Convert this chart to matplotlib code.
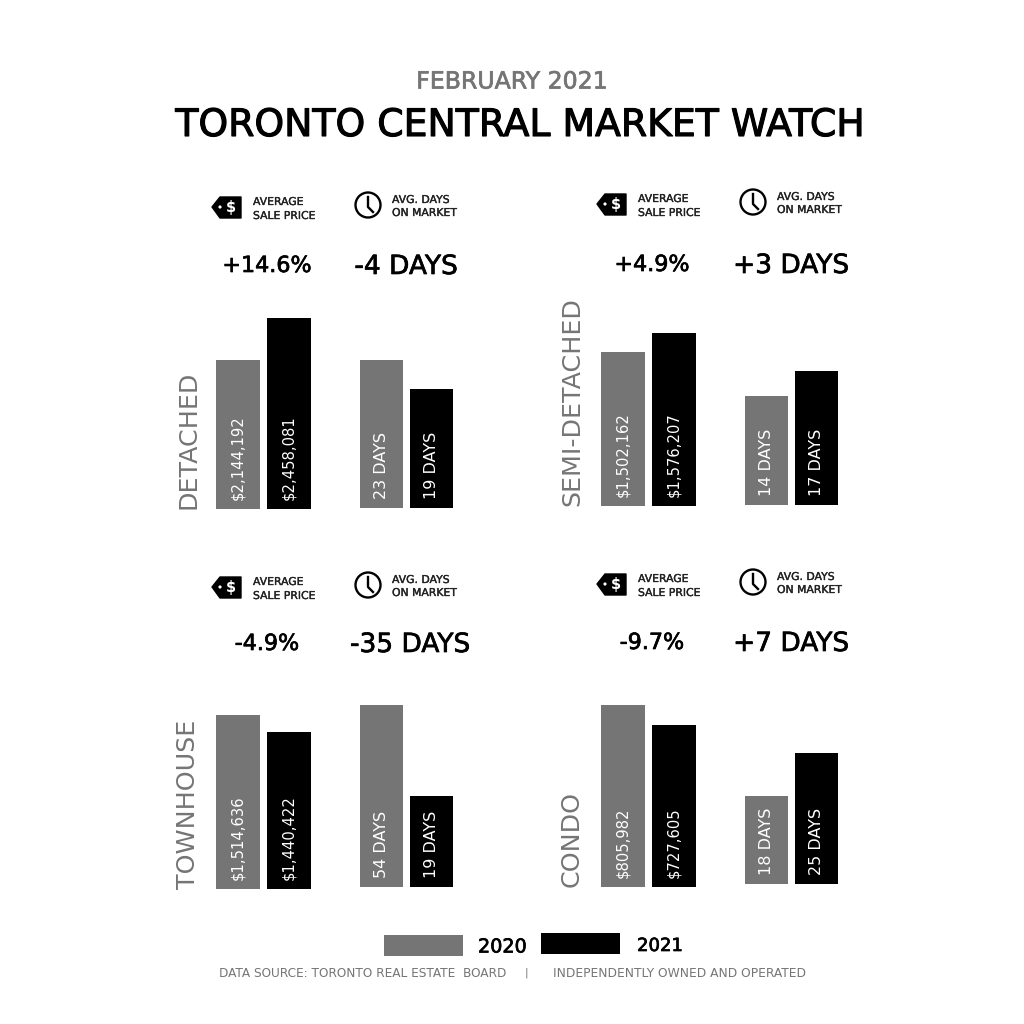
import matplotlib
matplotlib.use('Agg')
import matplotlib.pyplot as plt
import matplotlib.patheffects as pe
from matplotlib.patches import Circle, Polygon, Rectangle

plt.rcParams['font.family'] = ['DejaVu Sans']

GRAY = '#757575'
categories = ['DETACHED', 'SEMI-DETACHED', 'TOWNHOUSE', 'CONDO']
price_2020 = [2144192, 1502162, 1514636, 805982]
price_2021 = [2458081, 1576207, 1440422, 727605]
days_2020 = [23, 14, 54, 18]
days_2021 = [19, 17, 19, 25]
price_change = ['+14.6%', '+4.9%', '-4.9%', '-9.7%']
days_change = ['-4 DAYS', '+3 DAYS', '-35 DAYS', '+7 DAYS']

# y axis of each chart starts above/below zero, floors
price_floor = [1031000, 902000, 755000, 92700]
days_floor = [2.6, 0.92, -16, 3.7]

# pixel layout, one entry per panel
px = [0, 385, 0, 385]
price_base = [509, 506, 889, 887]
days_base = [508, 505, 887, 884]
price_top = [318, 333, 715, 705]
days_top = [360, 371, 705, 753]
icon_y = [207, 204, 587, 584]
change_y = [264, 263, 642, 641]
days_change_x = [406, 791, 410, 791]

fig = plt.figure(figsize=(10.24, 10.24), dpi=100)
bg = fig.add_axes([0, 0, 1, 1])
bg.set_xlim(0, 1024)
bg.set_ylim(1024, 0)
bg.axis('off')


def heavy(t, color='black', w=0.5):
    # DejaVu has no semibold, thicken the regular weight a little
    t.set_path_effects([pe.withStroke(linewidth=w, foreground=color)])
    return t


def bars(left, right, base, top, v1, v2, floor, labels, size):
    ax = fig.add_axes([left/1024, 1-base/1024, (right-left)/1024, (base-top)/1024])
    ax.bar([0, 1], [v1-floor, v2-floor], bottom=floor, width=0.86, color=[GRAY, 'black'])
    ax.set_xlim(-0.43, 1.43)
    ax.set_ylim(floor, max(v1, v2))
    ax.axis('off')
    for i, lab in enumerate(labels):
        ax.annotate(lab, (i, floor), xytext=(0, 6.5), textcoords='offset points',
                    rotation=90, ha='center', va='bottom', color='white',
                    fontsize=size, clip_on=False)


def tag_icon(cx, cy):
    bg.add_patch(Polygon([(cx-16, cy), (cx-8, cy-10), (cx+13, cy-10), (cx+13, cy+11),
                          (cx-8, cy+11)], closed=True, fc='black', ec='black', lw=1, joinstyle='round'))
    bg.add_patch(Circle((cx-8, cy), 1.6, fc='white', ec='none'))
    bg.text(cx+3, cy+0.5, '$', color='white', fontsize=10.5, fontweight='bold', ha='center', va='center')


def clock_icon(cx, cy):
    bg.add_patch(Circle((cx, cy), 12.5, fc='none', ec='black', lw=1.7))
    bg.plot([cx, cx, cx+5], [cy-8, cy+2, cy+7], color='black', lw=1.7)


for k in range(4):
    dx = px[k]
    y = icon_y[k]
    bars(216+dx, 311+dx, price_base[k], price_top[k], price_2020[k], price_2021[k], price_floor[k],
         [f'${price_2020[k]:,}', f'${price_2021[k]:,}'], 10.6)
    bars(360+dx, 453+dx, days_base[k], days_top[k], days_2020[k], days_2021[k], days_floor[k],
         [f'{days_2020[k]} DAYS', f'{days_2021[k]} DAYS'], 11.5)

    tag_icon(228+dx, y)
    clock_icon(368+dx, y-2)
    for txt, tx, ty in [('AVERAGE', 253, y-6), ('SALE PRICE', 253, y+8),
                        ('AVG. DAYS', 392, y-8), ('ON MARKET', 392, y+5)]:
        heavy(bg.text(tx+dx, ty, txt, fontsize=7.8, color='#222222', ha='left', va='center_baseline'), '#222222', 0.25)

    heavy(bg.text(267+dx, change_y[k], price_change[k], fontsize=16, ha='center', va='center_baseline'))
    heavy(bg.text(days_change_x[k], change_y[k], days_change[k], fontsize=19, ha='center', va='center_baseline'))
    bg.text(188+dx-(1 if dx else 0), price_base[k], categories[k], rotation=90, fontsize=18.3,
            color=GRAY, ha='center', va='bottom')

heavy(bg.text(512, 79, 'FEBRUARY 2021', fontsize=17, color=GRAY, ha='center', va='center_baseline'), GRAY)
heavy(bg.text(520, 122, 'TORONTO CENTRAL MARKET WATCH', fontsize=27.2, color='black',
              ha='center', va='center_baseline'), 'black', 0.8)

bg.add_patch(Rectangle((384, 935), 79, 21, fc=GRAY, ec='none'))
bg.add_patch(Rectangle((541, 933), 79, 21, fc='black', ec='none'))
heavy(bg.text(478, 945, '2020', fontsize=13.8, ha='left', va='center_baseline'))
heavy(bg.text(637, 944, '2021', fontsize=13, ha='left', va='center_baseline'))
bg.text(219, 972, 'DATA SOURCE: TORONTO REAL ESTATE  BOARD', fontsize=8.7,
        color=GRAY, ha='left', va='center_baseline')
bg.text(526, 972, '|', fontsize=8, color=GRAY, ha='center', va='center_baseline')
bg.text(806, 972, 'INDEPENDENTLY OWNED AND OPERATED', fontsize=8.8,
        color=GRAY, ha='right', va='center_baseline')

fig.savefig('out.png', dpi=100, facecolor='white')
